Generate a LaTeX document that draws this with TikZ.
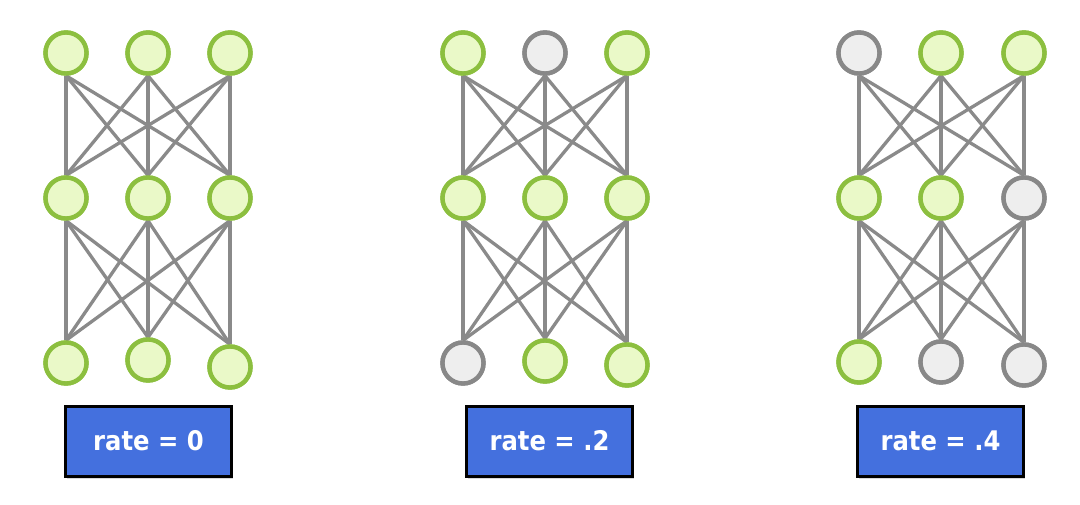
\documentclass[tikz,border=0pt]{standalone}
\usepackage{fontspec}
\setmainfont{DejaVu Sans}
\newfontfamily\boxfont{DejaVu Sans Condensed Bold}
\usetikzlibrary{shadows}
\definecolor{keepstroke}{HTML}{8CBF3F}
\definecolor{keepfill}{HTML}{EAF9C8}
\definecolor{dropstroke}{HTML}{888888}
\definecolor{dropfill}{HTML}{EEEEEE}
\definecolor{edgecol}{HTML}{8A8A8A}
\definecolor{boxblue}{HTML}{4470DE}
\tikzset{
  keepnode/.style={circle, draw=keepstroke, fill=keepfill, line width=4.4pt, minimum size=41pt, inner sep=0pt},
  dropnode/.style={circle, draw=dropstroke, fill=dropfill, line width=4.4pt, minimum size=41pt, inner sep=0pt},
  edge/.style={draw=edgecol, line width=3.3pt},
  ratebox/.style={draw=black, fill=boxblue, line width=3pt, minimum width=166pt, minimum height=70pt,
    text=white, font=\fontsize{27}{32}\boxfont,
    drop shadow={shadow xshift=1pt, shadow yshift=-3pt, opacity=0.3}}
}
\begin{document}
\begin{tikzpicture}[x=1pt,y=-1pt]
\useasboundingbox (0,0) rectangle (1080,504);
% network 1
\node[keepnode] (a1) at (66,53) {};
\node[keepnode] (a2) at (148,53) {};
\node[keepnode] (a3) at (230,53) {};
\node[keepnode] (b1) at (66,198) {};
\node[keepnode] (b2) at (148,198) {};
\node[keepnode] (b3) at (230,198) {};
\node[keepnode] (c1) at (66,363) {};
\node[keepnode] (c2) at (148,360) {};
\node[keepnode] (c3) at (230,367) {};
% network 2
\node[keepnode] (d1) at (463,53) {};
\node[dropnode] (d2) at (545,53) {};
\node[keepnode] (d3) at (627,53) {};
\node[keepnode] (e1) at (463,198) {};
\node[keepnode] (e2) at (545,198) {};
\node[keepnode] (e3) at (627,198) {};
\node[dropnode] (f1) at (463,363) {};
\node[keepnode] (f2) at (545,361) {};
\node[keepnode] (f3) at (627,365) {};
% network 3
\node[dropnode] (g1) at (859,53) {};
\node[keepnode] (g2) at (941,53) {};
\node[keepnode] (g3) at (1024,53) {};
\node[keepnode] (h1) at (859,198) {};
\node[keepnode] (h2) at (941,198) {};
\node[dropnode] (h3) at (1024,198) {};
\node[keepnode] (i1) at (859,362) {};
\node[dropnode] (i2) at (941,362) {};
\node[dropnode] (i3) at (1024,365) {};
% edges
\foreach \u/\v/\w in {a/b/c, d/e/f, g/h/i}{
  \foreach \p in {1,2,3}{
    \foreach \q in {1,2,3}{
      \draw[edge] (\u\p.south) -- (\v\q.north);
      \draw[edge] (\v\p.south) -- (\w\q.north);
    }
  }
}
% redraw nodes on top
\foreach \n in {a1,a2,a3,b1,b2,b3,c1,c2,c3,d1,d3,e1,e2,e3,f2,f3,g2,g3,h1,h2,i1}{
  \node[keepnode] at (\n) {};
}
\foreach \n in {d2,f1,g1,h3,i2,i3}{
  \node[dropnode] at (\n) {};
}
% rate boxes
\node[ratebox] (r1) at (148.5,441) {rate = 0};
\node[ratebox] (r2) at (549.5,441) {rate = .2};
\node[ratebox] (r3) at (940.5,441) {rate = .4};
\end{tikzpicture}
\end{document}
